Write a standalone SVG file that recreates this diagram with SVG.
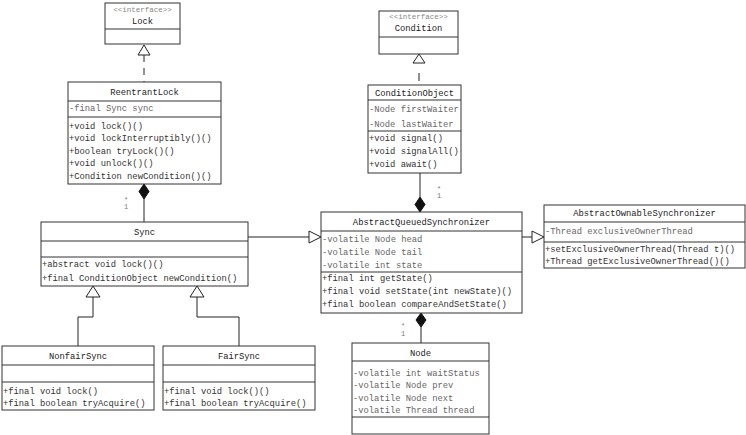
<svg xmlns="http://www.w3.org/2000/svg" width="746" height="435" viewBox="0 0 746 435">
<style>
.box{fill:#fff;stroke:#333;stroke-width:1}
.div{stroke:#333;stroke-width:1}
text{font-family:"Liberation Mono","DejaVu Sans Mono",monospace;font-size:8.8px;fill:#333}
.nm{text-anchor:middle;fill:#222}
.st{text-anchor:middle;font-size:7.5px;fill:#888}
.at{fill:#666}
.mt{fill:#333}
.lbl{font-size:7px;fill:#777;text-anchor:middle}
.ln{fill:none;stroke:#222;stroke-width:1}
.dash{fill:none;stroke:#222;stroke-width:1;stroke-dasharray:7,6}
.tri{fill:#fff;stroke:#222;stroke-width:1}
.dia{fill:#111;stroke:#111;stroke-width:1}
</style>
<rect width="746" height="435" fill="#fff"/>
<g id="connectors">
<line class="dash" x1="144" y1="55" x2="144" y2="82"/>
<polygon class="tri" points="144,45 138,55 150,55"/>
<line class="ln" x1="419" y1="63" x2="419" y2="85" stroke-dasharray="8,10" stroke-dashoffset="8"/>
<polygon class="tri" points="419,54 413,63 425,63"/>
<line class="ln" x1="144" y1="199" x2="144" y2="222"/>
<polygon class="dia" points="144,184 149,191.5 144,199 139,191.5"/>
<text class="lbl" x="126" y="202">*</text><text class="lbl" x="126" y="209">1</text>
<line class="ln" x1="420" y1="173" x2="420" y2="197"/>
<polygon class="dia" points="420,197 425,204.5 420,212 415,204.5"/>
<text class="lbl" x="439" y="191">*</text><text class="lbl" x="439" y="198">1</text>
<line class="ln" x1="248" y1="237" x2="309" y2="237"/>
<polygon class="tri" points="321,237 309,231 309,243"/>
<line class="ln" x1="522" y1="237" x2="532" y2="237"/>
<polygon class="tri" points="544,237 532,231 532,243"/>
<polyline class="ln" points="93,297 93,317 78,317 78,346"/>
<polygon class="tri" points="93,286 86,297 100,297"/>
<polyline class="ln" points="197,297 197,317 239,317 239,346"/>
<polygon class="tri" points="197,286 190,297 204,297"/>
<line class="ln" x1="421" y1="327" x2="421" y2="343"/>
<polygon class="dia" points="421,313 426,320 421,327 416,320"/>
<text class="lbl" x="403" y="328">*</text><text class="lbl" x="403" y="336">1</text>
</g>
<g id="Lock">
<rect class="box" x="105" y="3" width="75" height="41"/>
<line class="div" x1="105" y1="29" x2="180" y2="29"/>
<text class="st" x="142.5" y="12">&lt;&lt;interface&gt;&gt;</text>
<text class="nm" x="142.5" y="24">Lock</text>
</g>
<g id="ReentrantLock">
<rect class="box" x="68" y="82" width="153" height="102"/>
<line class="div" x1="68" y1="101" x2="221" y2="101"/>
<line class="div" x1="68" y1="117" x2="221" y2="117"/>
<text class="nm" x="144.5" y="95">ReentrantLock</text>
<text class="at" x="69" y="111">-final Sync sync</text>
<text class="mt" x="69" y="128.5">+void lock()()</text>
<text class="mt" x="69" y="141">+void lockInterruptibly()()</text>
<text class="mt" x="69" y="153.5">+boolean tryLock()()</text>
<text class="mt" x="69" y="166">+void unlock()()</text>
<text class="mt" x="69" y="178.5">+Condition newCondition()()</text>
</g>
<g id="Condition">
<rect class="box" x="379" y="11" width="79" height="43"/>
<line class="div" x1="379" y1="37" x2="458" y2="37"/>
<text class="st" x="418.5" y="19">&lt;&lt;interface&gt;&gt;</text>
<text class="nm" x="418.5" y="31">Condition</text>
</g>
<g id="ConditionObject">
<rect class="box" x="368" y="85" width="93" height="88"/>
<line class="div" x1="368" y1="100" x2="461" y2="100"/>
<line class="div" x1="368" y1="131" x2="461" y2="131"/>
<text class="nm" x="414.5" y="96">ConditionObject</text>
<text class="at" x="369" y="112">-Node firstWaiter</text>
<text class="at" x="369" y="127">-Node lastWaiter</text>
<text class="mt" x="369" y="141">+void signal()</text>
<text class="mt" x="369" y="154">+void signalAll()</text>
<text class="mt" x="369" y="167">+void await()</text>
</g>
<g id="Sync">
<rect class="box" x="41" y="222" width="207" height="64"/>
<line class="div" x1="41" y1="241" x2="248" y2="241"/>
<line class="div" x1="41" y1="257" x2="248" y2="257"/>
<text class="nm" x="144.5" y="234.5">Sync</text>
<text class="mt" x="42" y="266.5">+abstract void lock()()</text>
<text class="mt" x="42" y="281">+final ConditionObject newCondition()</text>
</g>
<g id="AbstractQueuedSynchronizer">
<rect class="box" x="321" y="212" width="201" height="101"/>
<line class="div" x1="321" y1="231" x2="522" y2="231"/>
<line class="div" x1="321" y1="272" x2="522" y2="272"/>
<text class="nm" x="421.5" y="224.5">AbstractQueuedSynchronizer</text>
<text class="at" x="322" y="241.5">-volatile Node head</text>
<text class="at" x="322" y="254.5">-volatile Node tail</text>
<text class="at" x="322" y="267.5">-volatile int state</text>
<text class="mt" x="322" y="281">+final int getState()</text>
<text class="mt" x="322" y="294">+final void setState(int newState)()</text>
<text class="mt" x="322" y="307">+final boolean compareAndSetState()</text>
</g>
<g id="AbstractOwnableSynchronizer">
<rect class="box" x="544" y="205" width="201" height="63"/>
<line class="div" x1="544" y1="222" x2="745" y2="222"/>
<line class="div" x1="544" y1="242" x2="745" y2="242"/>
<text class="nm" x="644.5" y="216">AbstractOwnableSynchronizer</text>
<text class="at" x="545" y="234">-Thread exclusiveOwnerThread</text>
<text class="mt" x="545" y="251.5">+setExclusiveOwnerThread(Thread t)()</text>
<text class="mt" x="545" y="264">+Thread getExclusiveOwnerThread()()</text>
</g>
<g id="NonfairSync">
<rect class="box" x="2" y="346" width="152" height="64"/>
<line class="div" x1="2" y1="365" x2="154" y2="365"/>
<line class="div" x1="2" y1="382" x2="154" y2="382"/>
<text class="nm" x="78" y="358.5">NonfairSync</text>
<text class="mt" x="3" y="393.5">+final void lock()</text>
<text class="mt" x="3" y="405.5">+final boolean tryAcquire()</text>
</g>
<g id="FairSync">
<rect class="box" x="163" y="346" width="152" height="64"/>
<line class="div" x1="163" y1="365" x2="315" y2="365"/>
<line class="div" x1="163" y1="382" x2="315" y2="382"/>
<text class="nm" x="239" y="358.5">FairSync</text>
<text class="mt" x="164" y="393.5">+final void lock()()</text>
<text class="mt" x="164" y="405.5">+final boolean tryAcquire()</text>
</g>
<g id="Node">
<rect class="box" x="352" y="343" width="137" height="91"/>
<line class="div" x1="352" y1="361" x2="489" y2="361"/>
<line class="div" x1="352" y1="417" x2="489" y2="417"/>
<text class="nm" x="420.5" y="355.5">Node</text>
<text class="at" x="353" y="375.5">-volatile int waitStatus</text>
<text class="at" x="353" y="388">-volatile Node prev</text>
<text class="at" x="353" y="400.5">-volatile Node next</text>
<text class="at" x="353" y="413">-volatile Thread thread</text>
</g>
</svg>
